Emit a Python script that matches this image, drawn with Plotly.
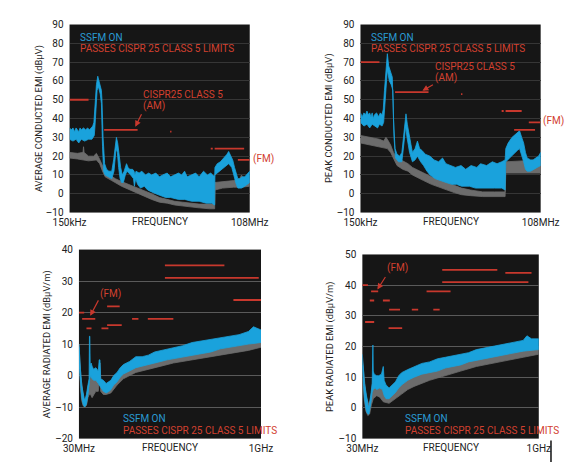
import math
import plotly.graph_objects as go

W, H = 585, 468
FONT = "Roboto, Liberation Sans, Arial, sans-serif"
FS = 9.4
BLUE = "#1aa2dc"
GRAY = "#6c6c6c"
RED = "#c8382d"
BG = "#161616"

# ---------------- Average conducted EMI (top-left), MHz / dBuV ----------------
TL_BLUE_UP_F = [0.15, 0.16, 0.17, 0.18, 0.19, 0.20, 0.21, 0.22, 0.23, 0.25, 0.27, 0.29, 0.31, 0.33, 0.35, 0.365,
                0.38, 0.40, 0.42, 0.44, 0.46, 0.48, 0.49, 0.51, 0.54, 0.58, 0.63, 0.70, 0.75, 0.80, 0.83, 0.87,
                0.92, 0.97, 1.03, 1.10, 1.20, 1.27, 1.35, 1.50, 1.58, 1.63, 1.70, 1.90, 2.1, 2.4, 2.7, 3.0, 3.5,
                4.0, 4.5, 5.3, 6, 7, 8, 9, 10, 11, 13, 15, 17, 20, 23, 26, 28, 30,
                30.3, 33, 37, 42, 47, 50, 54, 58, 62, 66, 70, 75, 82, 90, 100, 108]
TL_BLUE_UP_V = [35, 34, 35, 33, 35, 34, 33, 35, 34, 35, 34, 35, 34, 35, 36, 38,
                48, 58, 62.5, 60, 57, 55, 50, 30, 16, 13, 12, 12, 18, 28, 30, 27,
                20, 14, 10, 12, 16, 14, 13, 13, 12, 10, 12, 11, 12, 10, 11, 10, 11,
                9, 10, 11, 9, 10, 11, 10, 12, 9, 10, 11, 9, 12, 10, 11, 10, 9,
                14, 16, 17, 19, 21, 22.5, 20, 18, 14, 10, 8, 8, 9, 9, 11, 12]
TL_BLUE_LO_F = [0.15, 0.17, 0.19, 0.21, 0.23, 0.26, 0.30, 0.34, 0.37, 0.38, 0.41, 0.43, 0.46, 0.48, 0.50, 0.52,
                0.55, 0.60, 0.70, 0.76, 0.82, 0.86, 0.90, 0.95, 1.0, 1.07, 1.15, 1.22, 1.4, 1.55, 1.6, 1.68,
                1.8, 2.0, 2.3, 2.6, 3.0, 3.5, 4, 5, 6, 8, 10, 13, 17, 22, 27, 30,
                30.3, 35, 42, 50, 56, 62, 66, 70, 80, 90, 100, 108]
TL_BLUE_LO_V = [29, 28, 29, 27, 29, 28, 29, 29, 31, 36, 55, 57, 53, 48, 25, 12,
                10, 9, 8, 12, 24, 22, 14, 8, 6, 6, 10, 12, 10, 8, 4, 8,
                5, 3, 4, 2, 1, 0, -1, -2, -2, -3, -3, -4, -4, -5, -5, -6,
                10, 12, 14, 16, 14, 9, 5, 3, 3, 4, 5, 6]
TL_GRAY_UP_F = [0.15, 0.20, 0.245, 0.25, 0.255, 0.30, 0.36, 0.40, 0.44, 0.50, 0.55, 0.65, 0.8, 1.0, 1.3, 1.7,
                2.2, 3.0, 4.0, 5.3, 7, 9.4, 12, 17, 25, 30, 30.3, 40, 60, 75, 80, 85, 95, 108]
TL_GRAY_UP_V = [22, 21.5, 22, 25, 22, 20, 20, 21.5, 19, 15, 12, 10, 8, 6.5, 5, 3.5,
                2, 0, -2, -3, -4, -4.5, -5, -5.5, -5.5, -5.5, 6, 6.5, 7, 8, 10, 8, 7, 8]
TL_GRAY_LO_F = [0.15, 0.20, 0.30, 0.40, 0.45, 0.50, 0.55, 0.70, 1.0, 1.3, 1.7, 2.2, 3, 4, 5.3, 7, 9.4, 12,
                17, 25, 30, 30.3, 40, 60, 80, 108]
TL_GRAY_LO_V = [19, 18.5, 17.5, 18, 16, 12, 9, 7, 4, 2.5, 1, -1, -3, -4.5, -5, -6, -6.5, -7,
                -7.5, -8, -8, 2, 3, 3.5, 3.5, 4]
TL_LIM_START = [0.15, 0.53, 5.9, 26, 30, 70]
TL_LIM_END = [0.30, 1.8, 6.2, 28, 88, 108]
TL_LIM_LEVEL = [50, 34, 33, 24, 24, 18]

# ---------------- Peak conducted EMI (top-right) ----------------
TR_BLUE_UP_F = [0.15, 0.16, 0.17, 0.18, 0.19, 0.2, 0.21, 0.22, 0.23, 0.24, 0.25, 0.27, 0.29, 0.31, 0.33, 0.345,
                0.36, 0.38, 0.40, 0.42, 0.44, 0.46, 0.48, 0.50, 0.53, 0.57, 0.63, 0.68, 0.72, 0.77, 0.79, 0.83,
                0.88, 0.95, 1.0, 1.1, 1.2, 1.3, 1.42, 1.6, 1.9, 2.2, 2.6, 3.0, 3.4, 4, 4.8, 5.9, 7, 8.5,
                10.5, 12, 15, 18.5, 22, 26, 29.5,
                30.2, 33, 38, 44, 50, 54, 58, 62, 66, 75, 82, 90, 100, 108]
TR_BLUE_UP_V = [43, 41, 43, 42, 44, 42, 43, 41, 43, 40, 42, 43, 41, 43, 42, 45,
                55, 68, 74.5, 68, 66, 65, 62, 40, 24, 21, 20, 22, 30, 40, 42.5, 37,
                33, 26, 22, 24, 28, 24, 23, 21, 20, 18, 17, 19, 16, 15, 14, 15, 13, 15,
                14, 16, 15, 17, 16, 17, 18,
                24, 27, 30, 32, 33.5, 30, 27, 22, 19, 18, 18, 19, 20, 22]
TR_BLUE_LO_F = [0.15, 0.17, 0.19, 0.21, 0.23, 0.25, 0.28, 0.30, 0.33, 0.35, 0.37, 0.40, 0.43, 0.46, 0.49, 0.51,
                0.54, 0.60, 0.68, 0.74, 0.78, 0.82, 0.90, 1.0, 1.1, 1.2, 1.35, 1.5, 1.7, 1.9, 2.3, 2.8, 3.4,
                4.2, 5, 6, 8, 10, 14, 20, 26, 29.5,
                30.2, 35, 40, 46, 50, 54, 58, 62, 66, 75, 85, 95, 108]
TR_BLUE_LO_V = [38, 36, 37, 35, 37, 36, 35, 37, 36, 38, 52, 66, 60, 58, 55, 30,
                19, 17, 17, 28, 36, 30, 22, 17, 18, 20, 17, 15, 12, 10, 8, 7, 6,
                5, 5, 4, 4, 3, 3, 3, 3, 2,
                17, 19, 21, 23, 24, 21, 17, 13, 12, 12, 13, 14, 15]
TR_GRAY_UP_F = [0.15, 0.2, 0.25, 0.3, 0.35, 0.38, 0.40, 0.45, 0.5, 0.57, 0.7, 0.85, 1.0, 1.5, 2.0, 2.7, 3.5,
                4.7, 6, 8.3, 10, 13, 20, 29.5, 30.2, 50, 80, 108]
TR_GRAY_UP_V = [31, 30, 29.5, 29, 28, 30, 29, 26, 22, 19, 17.5, 16, 14, 11, 9, 7.5, 6,
                4.5, 3, 2, 1.5, 1, 1, 1, 17, 17.5, 18, 18]
TR_GRAY_LO_F = [0.15, 0.2, 0.3, 0.4, 0.45, 0.5, 0.57, 0.7, 0.85, 1.0, 1.5, 2.0, 2.7, 3.5, 4.7, 6, 8.3, 13,
                29.5, 30.2, 60, 108]
TR_GRAY_LO_V = [27, 26, 25, 24, 22, 19, 15, 13, 12, 10, 7, 5, 3.5, 2, 0.5, -0.5, -1, -1.5,
                -1.5, 11, 11, 11]
TR_LIM_START = [0.15, 0.53, 5.9, 26, 30, 41, 70]
TR_LIM_END = [0.30, 1.8, 6.2, 28, 54, 88, 108]
TR_LIM_LEVEL = [70, 54, 53, 44, 44, 34, 38]

# ---------------- Average radiated EMI (bottom-left), MHz / dBuV/m ----------------
BL_BLUE_UP_F = [30, 33, 38, 45, 52, 58, 63, 70, 78, 84, 86, 88, 90, 95, 100, 108, 120, 133, 138, 142, 146,
                160, 175, 190, 200, 215, 233, 250, 267, 300, 333, 367, 400, 433, 467, 500, 533, 583, 633,
                683, 733, 783, 833, 883, 933, 960, 1000]
BL_BLUE_UP_V = [10, 6, 2, -3, -6, -7.5, -7.5, -6, -3, -1, 12.5, 12.5, 3, 4, 3, 2, 2.5, 1.5, 5, 5, -1,
                -1.5, -2.5, -2, -1.5, 0, 1, 2.5, 3.5, 4.5, 6, 6, 6.5, 7.5, 8, 8.5, 9, 9.5, 10.5,
                11, 11.5, 12, 12.5, 13, 14, 15.5, 14.5]
BL_BLUE_LO_F = [30, 33, 38, 45, 52, 58, 63, 70, 78, 84, 88, 92, 100, 108, 120, 133, 142, 150, 160, 175, 190,
                200, 215, 233, 250, 267, 300, 333, 367, 400, 433, 467, 500, 533, 583, 633, 683, 733, 783,
                833, 883, 933, 1000]
BL_BLUE_LO_V = [9, 2, -3, -7, -9, -9.8, -9.8, -9, -6, -4, -1, 0, -1, -1.5, -1.5, -2.5, -3, -4, -5, -5.5, -5,
                -4.5, -3, -2, -0.5, 0.5, 1.5, 2.5, 3, 3.5, 4, 4.5, 5, 5.5, 6, 6.5, 7, 7.5, 8.5,
                9, 9.5, 10, 10.5]
BL_GRAY_UP_F = [30, 40, 50, 60, 70, 80, 88, 95, 100, 108, 133, 142, 146, 175, 233, 300, 400, 533, 733, 1000]
BL_GRAY_UP_V = [10, 0, -5, -8, -7, -3, -2, 1.5, 0, 0, 0, 4, -2, -3, 0, 3, 5, 7, 10, 12]
BL_GRAY_LO_F = [30, 38, 45, 52, 60, 70, 78, 85, 92, 100, 110, 120, 133, 142, 146, 160, 175, 200, 233, 267,
                300, 333, 400, 467, 533, 633, 733, 833, 933, 1000]
BL_GRAY_LO_V = [8, -4, -8, -9.5, -10, -9.5, -7, -6, -6, -7, -6, -5, -5, 0, -5, -6, -6, -5.5, -3, -1,
                0, 1, 2, 3, 4, 5, 6, 7, 8, 9]
BL_LIM_START = [30, 47, 70, 150, 180, 180, 313, 397, 488, 488, 853]
BL_LIM_END = [58, 117, 97, 187, 247, 258, 347, 533, 805, 988, 1000]
BL_LIM_LEVEL = [20, 18, 15, 15, 22, 16, 18, 18, 35, 31, 24]

# ---------------- Peak radiated EMI (bottom-right) ----------------
BR_BLUE_UP_F = [30, 33, 37, 42, 49, 55, 61, 66, 72, 78, 84, 86, 88, 90, 95, 109, 120, 135, 141, 145, 150,
                160, 177, 195, 212, 230, 246, 280, 314, 357, 400, 443, 486, 530, 571, 614, 657, 700, 743,
                786, 828, 871, 914, 935, 960, 1000]
BR_BLUE_UP_V = [17.5, 16, 12, 8, 5, 3, 1, 0, 2, 5, 8, 20.5, 20.5, 12, 11, 10.5, 10.5, 11, 13.5, 13.5, 9,
                7.5, 6.5, 7.5, 8.5, 10.5, 11.5, 12.5, 13.5, 14.5, 15, 16, 16.5, 17, 17.5, 18, 19, 19.5, 20,
                20.5, 21, 21.5, 22, 23.5, 22.5, 22.5]
BR_BLUE_LO_F = [30, 33, 37, 42, 49, 55, 61, 66, 72, 78, 84, 90, 100, 109, 126, 140, 150, 160, 177, 195, 212,
                230, 246, 280, 314, 357, 400, 443, 486, 530, 571, 614, 657, 700, 743, 786, 828, 871, 914, 1000]
BR_BLUE_LO_V = [14, 11, 7, 3, 0, -1.5, -2, -2, -0.5, 2, 5, 6, 6.5, 6, 6.5, 6, 4, 3, 3, 4, 5,
                6.5, 7.5, 9, 10, 11, 11.5, 12, 13, 13.5, 14, 15, 15.5, 16, 16.5, 17, 17.5, 18, 18.5, 19]
BR_GRAY_UP_F = [30, 40, 50, 66, 80, 88, 92, 126, 150, 177, 212, 246, 314, 400, 486, 571, 657, 743, 828, 914, 1000]
BR_GRAY_UP_V = [16, 9, 4, 1, 4, 10, 8, 8, 6, 5, 6.5, 8.5, 11, 13, 14.5, 15.5, 16.5, 17.5, 18.5, 19.5, 20]
BR_GRAY_LO_F = [30, 40, 49, 60, 70, 80, 90, 109, 126, 145, 177, 212, 246, 280, 314, 400, 486, 571, 657, 743,
                828, 914, 1000]
BR_GRAY_LO_V = [13, 3, -1, -2.5, -2, 1, 3, 4, 3.5, 2, 1.5, 3, 4.5, 6, 7, 9, 10.5, 12, 13.5, 14.5,
                15.5, 16.5, 17.5]
BR_LIM_START = [30, 78, 71, 143, 177, 302, 420, 45, 174, 383, 469, 469, 816]
BR_LIM_END = [61, 117, 95, 181, 237, 337, 455, 95, 249, 515, 772, 943, 960]
BR_LIM_LEVEL = [40, 38, 35, 35, 32, 32, 32, 28, 26, 38, 45, 41, 44]

Y_TICKS_TOP = [-10, 0, 10, 20, 30, 40, 50, 60, 70, 80, 90]
Y_TICKS_BL = [-20, -10, 0, 10, 20, 30, 40]
Y_TICKS_BR = [-10, 0, 10, 20, 30, 40, 50]

# panel geometry in pixels (left, right, top, bottom)
PANELS = {
    "1": dict(box=(56, 248, 19, 212), xtype="log", xr=(0.15, 108), yr=(-10, 90), yt=Y_TICKS_TOP,
              xt=[0.15, 108], xtt=["150kHz", "108MHz"], grid="#363636",
              title="AVERAGE CONDUCTED EMI (dBµV)", tx=23),
    "2": dict(box=(366, 558, 19, 212), xtype="log", xr=(0.15, 108), yr=(-10, 90), yt=Y_TICKS_TOP,
              xt=[0.15, 108], xtt=["150kHz", "108MHz"], grid="#363636",
              title="PEAK CONDUCTED EMI (dBµV)", tx=332),
    "3": dict(box=(66, 260, 250, 444), xtype="linear", xr=(30, 1000), yr=(-20, 40), yt=Y_TICKS_BL,
              xt=[30, 1000], xtt=["30MHz", "1GHz"], grid="#5a5a5a",
              title="AVERAGE RADIATED EMI (dBµV/m)", tx=32),
    "4": dict(box=(368, 556, 255, 444), xtype="linear", xr=(30, 1000), yr=(-10, 50), yt=Y_TICKS_BR,
              xt=[30, 1000], xtt=["30MHz", "1GHz"], grid="#5a5a5a",
              title="PEAK RADIATED EMI (dBµV/m)", tx=333),
}

fig = go.Figure()
layout = dict(width=W, height=H, margin=dict(l=0, r=0, t=0, b=0), paper_bgcolor="white",
              plot_bgcolor=BG, showlegend=False, font=dict(family=FONT, size=FS, color="#222"))
annotations = []
for k, p in PANELS.items():
    l, r, t, b = p["box"]
    xa = "xaxis" if k == "1" else "xaxis" + k
    ya = "yaxis" if k == "1" else "yaxis" + k
    xr = [math.log10(p["xr"][0]), math.log10(p["xr"][1])] if p["xtype"] == "log" else list(p["xr"])
    layout[xa] = dict(domain=[l / W, r / W], anchor="y" if k == "1" else "y" + k, type=p["xtype"], range=xr,
                      showgrid=False, zeroline=False, showline=False, ticks="",
                      tickmode="array", tickvals=p["xt"], ticktext=p["xtt"],
                      tickfont=dict(family=FONT, size=FS + 0.6, color="#222"), ticklabelstandoff=2)
    layout[ya] = dict(domain=[1 - b / H, 1 - t / H], anchor="x" if k == "1" else "x" + k, range=list(p["yr"]),
                      showgrid=True, gridcolor=p["grid"], gridwidth=1, zeroline=False, showline=False,
                      ticks="", tickmode="array", tickvals=p["yt"],
                      ticktext=[("\u2013" + str(-v)) if v < 0 else str(v) for v in p["yt"]],
                      tickfont=dict(family=FONT, size=FS + 0.6, color="#222"), ticklabelstandoff=5)
    annotations.append(dict(text=p["title"], textangle=-90, xref="paper", x=p["tx"] / W, xanchor="center",
                            yref="paper", y=1 - (t + b) / 2 / H, yanchor="middle", showarrow=False,
                            font=dict(family=FONT, size=FS, color="#222")))
    annotations.append(dict(text="FREQUENCY", xref="paper", x=(l + r) / 2 / W, xanchor="center",
                            yref="paper", y=1 - (b + 9) / H, yanchor="middle", showarrow=False,
                            font=dict(family=FONT, size=FS + 0.6, color="#222")))


def band(xu, yu, xl, yl, color, k):
    fig.add_trace(go.Scatter(x=list(xu) + list(xl)[::-1], y=list(yu) + list(yl)[::-1], fill="toself",
                             fillcolor=color, mode="lines", line=dict(color=color, width=0.8),
                             xaxis="x" if k == "1" else "x" + k, yaxis="y" if k == "1" else "y" + k,
                             hoverinfo="skip"))


def limits(starts, ends, levels, k, width=1.8):
    xs, ys = [], []
    for s, e, v in zip(starts, ends, levels):
        xs += [s, e, None]
        ys += [v, v, None]
    fig.add_trace(go.Scatter(x=xs, y=ys, mode="lines", line=dict(color=RED, width=width),
                             xaxis="x" if k == "1" else "x" + k, yaxis="y" if k == "1" else "y" + k,
                             hoverinfo="skip"))


band(TL_GRAY_UP_F, TL_GRAY_UP_V, TL_GRAY_LO_F, TL_GRAY_LO_V, GRAY, "1")
band(TL_BLUE_UP_F, TL_BLUE_UP_V, TL_BLUE_LO_F, TL_BLUE_LO_V, BLUE, "1")
limits(TL_LIM_START, TL_LIM_END, TL_LIM_LEVEL, "1")
band(TR_GRAY_UP_F, TR_GRAY_UP_V, TR_GRAY_LO_F, TR_GRAY_LO_V, GRAY, "2")
band(TR_BLUE_UP_F, TR_BLUE_UP_V, TR_BLUE_LO_F, TR_BLUE_LO_V, BLUE, "2")
limits(TR_LIM_START, TR_LIM_END, TR_LIM_LEVEL, "2")
band(BL_GRAY_UP_F, BL_GRAY_UP_V, BL_GRAY_LO_F, BL_GRAY_LO_V, GRAY, "3")
band(BL_BLUE_UP_F, BL_BLUE_UP_V, BL_BLUE_LO_F, BL_BLUE_LO_V, BLUE, "3")
limits(BL_LIM_START, BL_LIM_END, BL_LIM_LEVEL, "3")
band(BR_GRAY_UP_F, BR_GRAY_UP_V, BR_GRAY_LO_F, BR_GRAY_LO_V, GRAY, "4")
band(BR_BLUE_UP_F, BR_BLUE_UP_V, BR_BLUE_LO_F, BR_BLUE_LO_V, BLUE, "4")
limits(BR_LIM_START, BR_LIM_END, BR_LIM_LEVEL, "4")


def txt(s, x, y, color, anchor="left", size=FS + 0.6):
    annotations.append(dict(text=s, xref="paper", yref="paper", x=x / W, y=1 - y / H, xanchor=anchor,
                            yanchor="middle", showarrow=False, font=dict(family=FONT, size=size, color=color)))


def arrow(tipx, tipy, ax, ay):
    annotations.append(dict(text="", xref="paper", yref="paper", x=tipx / W, y=1 - tipy / H, ax=ax, ay=ay,
                            showarrow=True, arrowhead=2, arrowsize=1, arrowwidth=1.2, arrowcolor=RED))


SSFM_BLUE = "#2a9bd4"
TRED = "#d2402f"
txt("SSFM ON", 65, 32, SSFM_BLUE)
txt("PASSES CISPR 25 CLASS 5 LIMITS", 65, 43.5, TRED)
txt("SSFM ON", 375, 32, SSFM_BLUE)
txt("PASSES CISPR 25 CLASS 5 LIMITS", 375, 43.5, TRED)
txt("SSFM ON", 111, 423.5, SSFM_BLUE)
txt("PASSES CISPR 25 CLASS 5 LIMITS", 111, 436, TRED)
txt("SSFM ON", 411, 423.5, SSFM_BLUE)
txt("PASSES CISPR 25 CLASS 5 LIMITS", 411, 436, TRED)
txt("CISPR25 CLASS 5", 132, 91, TRED)
txt("(AM)", 132, 103, TRED)
arrow(126, 124, 7, -14)
txt("(FM)", 249, 157, TRED)
txt("CISPR25 CLASS 5", 443, 62, TRED)
txt("(AM)", 443, 74, TRED)
arrow(432, 87, 12, -7)
txt("(FM)", 558, 118, TRED)
txt("(FM)", 86, 296, TRED)
arrow(78, 318, 9, -17)
txt("(FM)", 392, 269, TRED)
arrow(384, 291, 9, -14)

layout["annotations"] = annotations
layout["shapes"] = [dict(type="line", xref="paper", yref="paper", x0=569 / W, x1=569 / W, y0=1 - 446 / H,
                         y1=1 - 468 / H, line=dict(color="#111", width=1.5))]
fig.update_layout(**layout)
fig.write_html("out.html", config={"displayModeBar": False},
               post_script="document.body.style.margin='0px';")
